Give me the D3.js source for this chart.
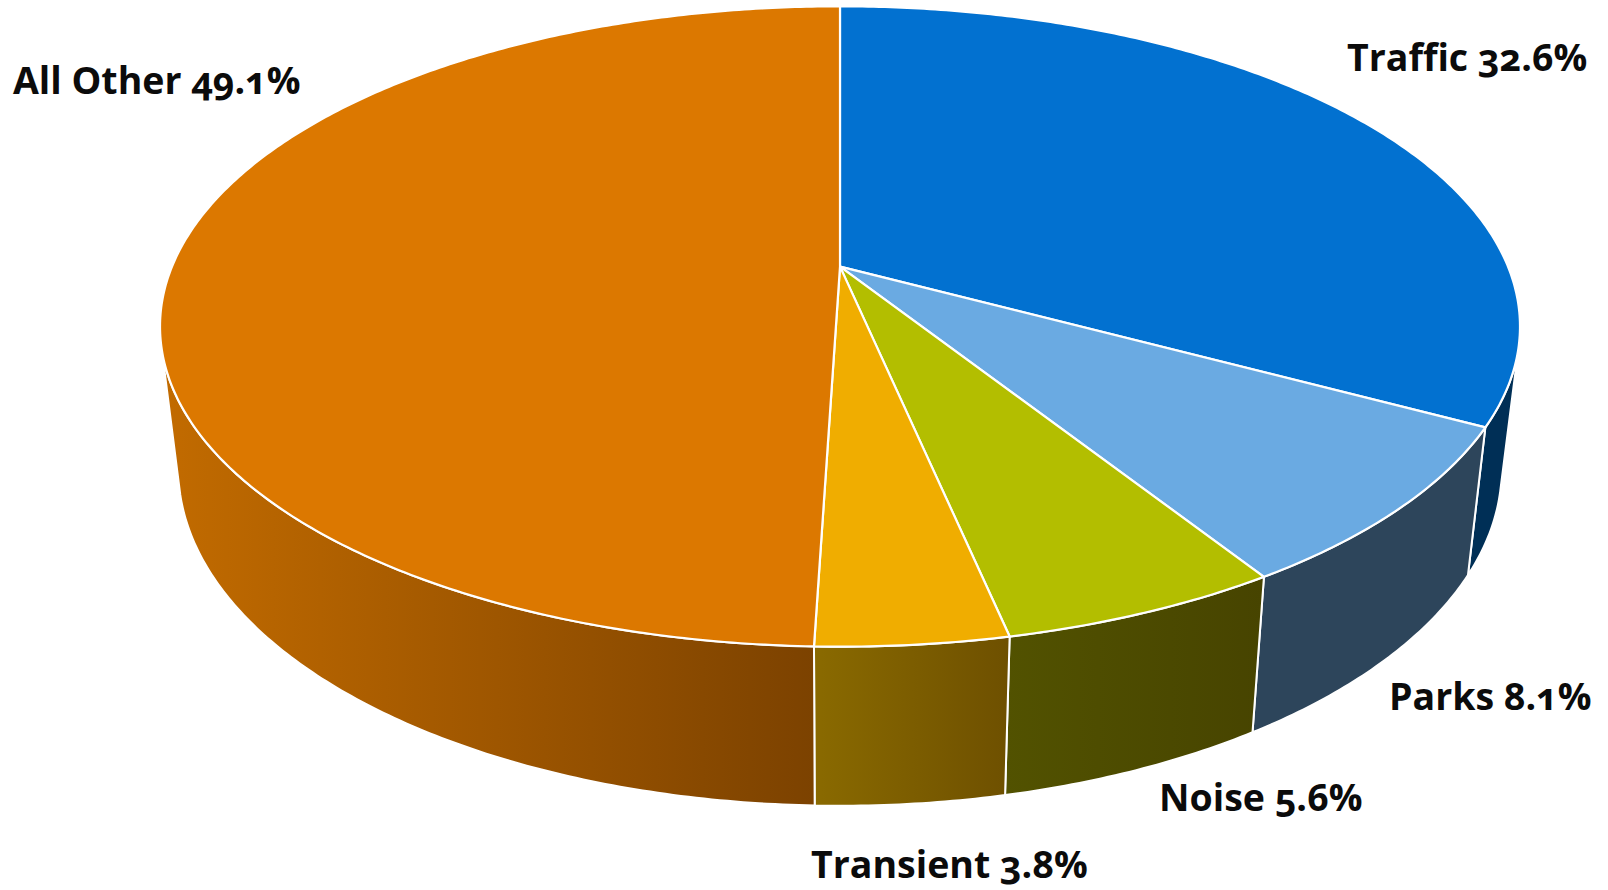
<!DOCTYPE html>
<html>
<head>
<meta charset="utf-8">
<script src="https://cdn.jsdelivr.net/npm/d3@7"></script>
<style>
  html, body { margin: 0; background: #fff; }
  text { font-family: "Open Sans", sans-serif; font-weight: 700; font-size: 37.5px; fill: #0b0b0b; font-feature-settings: "onum" 1; }
</style>
</head>
<body>
<svg id="chart" width="1608" height="890"></svg>
<script>
const categories = ["Traffic", "Parks", "Noise", "Transient", "All Other"]
const shares = [32.6, 8.1, 5.6, 3.8, 49.1]
const topColors = ["#0271D0", "#6AAAE2", "#B3BE00", "#F0AD00", "#DC7800"]
const wallLeftColors = ["#002F56", "#2D455B", "#525200", "#8A6A00", "#C26B00"]
const wallRightColors = ["#002F56", "#2D455B", "#474400", "#6E5000", "#7C4200"]
const labelSpots = [[1347, 71], [1389, 710], [1159, 811], [811, 878], [13, 94]]

// perspective of the disc, fitted by eye
const tilt = 0.187
const top_ = { cx: 840, cy: 266.6, rx: 668, ry: 309 }
const bottom = { cx: 840, cy: 406, rx: 650, ry: 325 }
const frontFrom = 104 * Math.PI / 180, frontTo = 255 * Math.PI / 180

const project = (plane, a) => {
    const sx = Math.sin(a), sy = -Math.cos(a), w = 1 - tilt * sy
    return [plane.cx + plane.rx * sx / w, plane.cy + plane.ry * sy / w]
}
const sweep = (plane, a0, a1) => {
    const n = Math.max(2, Math.ceil(Math.abs(a1 - a0) / 0.01))
    return d3.range(n + 1).map(i => project(plane, a0 + (a1 - a0) * i / n))
}

const svg = d3.select("#chart")
const line = d3.line()
const arcs = d3.pie().sort(null)(shares)
const defs = svg.append("defs")

// side walls first, the top covers whatever is behind it
const walls = svg.append("g")
arcs.forEach((d, i) => {
    const a0 = Math.max(d.startAngle, frontFrom), a1 = Math.min(d.endAngle, frontTo)
    if (a1 <= a0) return
    const pts = sweep(top_, a0, a1).concat(sweep(bottom, a1, a0))
    const xs = d3.extent(pts, p => p[0])
    const grad = defs.append("linearGradient")
        .attr("id", "wall" + i)
        .attr("gradientUnits", "userSpaceOnUse")
        .attr("x1", xs[0]).attr("x2", xs[1]).attr("y1", 0).attr("y2", 0)
    grad.append("stop").attr("offset", 0).attr("stop-color", wallLeftColors[i])
    grad.append("stop").attr("offset", 1).attr("stop-color", wallRightColors[i])
    walls.append("path")
        .attr("d", line(pts) + "Z")
        .attr("fill", "url(#wall" + i + ")")
        .attr("stroke", "#fff")
        .attr("stroke-width", 2)
        .attr("stroke-linejoin", "round")
})

svg.append("g")
    .selectAll("path")
    .data(arcs)
    .join("path")
    .attr("d", d => line([[top_.cx, top_.cy]].concat(sweep(top_, d.startAngle, d.endAngle))) + "Z")
    .attr("fill", (d, i) => topColors[i])
    .attr("stroke", "#fff")
    .attr("stroke-width", 2.2)
    .attr("stroke-linejoin", "round")

svg.append("g")
    .selectAll("text")
    .data(categories)
    .join("text")
    .attr("x", (d, i) => labelSpots[i][0])
    .attr("y", (d, i) => labelSpots[i][1])
    .text((d, i) => d + " " + shares[i] + "%")
</script>
</body>
</html>
